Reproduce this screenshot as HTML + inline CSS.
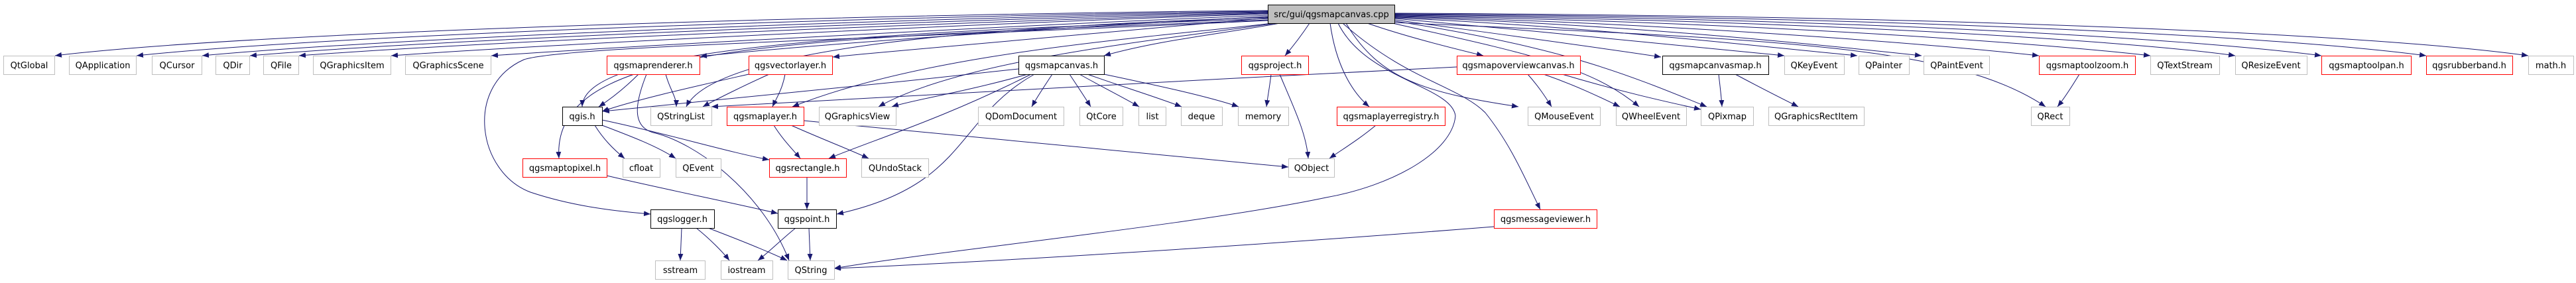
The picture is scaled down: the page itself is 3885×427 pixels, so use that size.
<!DOCTYPE html>
<html><head><meta charset="utf-8"><style>
html,body{margin:0;padding:0;background:#fff}
svg{display:block}
text{font-family:"DejaVu Sans","Liberation Sans",sans-serif;font-size:13px;fill:#000;text-anchor:middle}
.e{fill:none;stroke:#191970;stroke-width:1}
.g{fill:#fff;stroke:#bfbfbf}
.r{fill:#fff;stroke:#ff0000}
.b{fill:#fff;stroke:#000}
</style></head><body>
<svg width="3885" height="427" viewBox="0 0 3885 427" xmlns="http://www.w3.org/2000/svg">
<defs><marker id="a" markerUnits="userSpaceOnUse" markerWidth="11" markerHeight="8" refX="10" refY="4" orient="auto"><path d="M0,0 L10,4 L0,8 z" fill="#191970"/></marker></defs>
<g class="e" marker-end="url(#a)">
<!-- root to row1 left -->
<path d="M1912,16 C1400,20 400,45 83,84"/>
<path d="M1912,17 C1450,22 550,48 206,84"/>
<path d="M1912,18 C1500,24 650,52 305,84"/>
<path d="M1912,19 C1550,26 720,55 377,84"/>
<path d="M1912,20 C1600,28 800,58 451,84"/>
<path d="M1912,21 C1620,30 900,62 590,84"/>
<path d="M1912,23 C1650,33 1000,66 741,84"/>
<path d="M1912,25 C1700,36 1300,60 1056,85"/>
<path d="M1912,27 C1750,40 1500,62 1256,86"/>
<path d="M1930,35 C1850,50 1750,60 1665,84"/>
<path d="M1975,35 C1965,50 1950,70 1938,84"/>
<!-- root to row1 right -->
<path d="M2062,35 C2120,55 2180,70 2237,84"/>
<path d="M2104,30 C2250,50 2400,70 2505,86"/>
<path d="M2104,28 C2300,45 2550,70 2691,84"/>
<path d="M2104,27 C2400,40 2650,70 2801,84"/>
<path d="M2104,26 C2450,36 2750,68 2898,84"/>
<path d="M2104,25 C2500,34 2900,65 3075,84"/>
<path d="M2104,24 C2600,32 3050,62 3243,84"/>
<path d="M2104,23 C2700,30 3200,60 3371,84"/>
<path d="M2104,22 C2800,28 3300,58 3501,84"/>
<path d="M2104,21 C2900,26 3450,56 3659,84"/>
<path d="M2104,20 C3000,24 3600,54 3813,84"/>
<!-- root to lower -->
<path d="M1912,28 C1300,50 880,70 878,161"/>
<path d="M1912,30 C1200,60 830,60 843,239"/>
<path d="M1912,31 C1300,60 850,70 790,90 C700,130 720,260 800,290 C860,310 920,318 981,323"/>
<path d="M1912,26 C1500,40 1080,70 1035,161"/>
<path d="M1920,35 C1700,60 1400,80 1195,161"/>
<path d="M1925,35 C1750,60 1450,90 1325,161"/>
<path d="M2006,35 C2015,100 2040,140 2065,161"/>
<path d="M2030,35 C2080,120 2150,140 2290,161"/>
<path d="M2100,35 C2300,80 2400,100 2472,161"/>
<path d="M2104,32 C2350,70 2450,110 2574,161"/>
<path d="M2025,35 C2120,120 2200,130 2240,170 C2280,220 2300,270 2323,316"/>
<path d="M2018,35 C2060,120 2190,130 2195,175 C2190,230 2100,280 2000,298 C1800,340 1400,380 1258,405"/>
<path d="M2104,34 C2700,60 2950,70 3085,161"/>
<!-- others -->
<path d="M963,112 C940,135 920,150 903,161"/>
<path d="M1004,112 C1010,135 1020,145 1020,161"/>
<path d="M975,112 C960,150 950,190 985,200 C1050,215 1150,290 1190,393"/>
<path d="M1129,112 C1050,130 960,150 908,168"/>
<path d="M1160,112 C1120,130 1080,150 1060,161"/>
<path d="M1184,112 C1180,135 1170,150 1165,161"/>
<path d="M1536,104 C1300,130 1000,160 909,168"/>
<path d="M1550,112 C1450,140 1380,150 1345,161"/>
<path d="M1555,112 C1420,180 1320,210 1250,239"/>
<path d="M1560,112 C1440,180 1460,280 1262,323"/>
<path d="M1587,112 C1575,130 1565,145 1556,161"/>
<path d="M1613,112 C1625,130 1635,145 1645,161"/>
<path d="M1628,112 C1660,130 1690,145 1718,161"/>
<path d="M1640,112 C1690,130 1740,145 1782,161"/>
<path d="M1665,112 C1750,130 1820,145 1868,161"/>
<path d="M1917,112 C1915,130 1912,145 1910,161"/>
<path d="M1930,112 C1950,160 1970,200 1973,239"/>
<path d="M897,189 C910,210 925,225 942,239"/>
<path d="M908,189 C950,205 990,220 1019,239"/>
<path d="M908,181 C1000,200 1100,230 1160,241"/>
<path d="M1167,189 C1180,210 1195,225 1207,239"/>
<path d="M1193,189 C1240,210 1280,225 1310,239"/>
<path d="M1212,182 C1500,210 1800,240 1943,252"/>
<path d="M1217,267 L1217,316"/>
<path d="M915,265 C1000,285 1100,305 1173,322"/>
<path d="M1028,344 L1026,393"/>
<path d="M1050,344 C1070,360 1090,380 1100,393"/>
<path d="M1068,344 C1110,360 1160,380 1187,393"/>
<path d="M1200,344 C1180,360 1160,380 1143,393"/>
<path d="M1220,344 L1222,393"/>
<path d="M2075,189 C2050,210 2025,225 2005,239"/>
<path d="M2197,101 C1800,120 1300,150 1073,161"/>
<path d="M2304,112 C2320,130 2330,145 2340,161"/>
<path d="M2328,112 C2380,130 2420,150 2443,161"/>
<path d="M2356,112 C2450,140 2520,155 2565,165"/>
<path d="M2592,112 C2594,130 2596,145 2597,161"/>
<path d="M2617,112 C2660,135 2690,150 2712,161"/>
<path d="M3136,112 C3125,130 3112,150 3103,161"/>
<path d="M2253,342 C1900,370 1500,395 1258,405"/>
</g>
<g>
<rect x="1912.5" y="7.5" width="191" height="28" fill="#bfbfbf" stroke="#000"/><text x="2008" y="26">src/gui/qgsmapcanvas.cpp</text>
<rect class="g" x="5.5" y="84.5" width="77" height="28"/><text x="44" y="103">QtGlobal</text>
<rect class="g" x="104.5" y="84.5" width="101" height="28"/><text x="155" y="103">QApplication</text>
<rect class="g" x="229.5" y="84.5" width="75" height="28"/><text x="267" y="103">QCursor</text>
<rect class="g" x="325.5" y="84.5" width="51" height="28"/><text x="351" y="103">QDir</text>
<rect class="g" x="397.5" y="84.5" width="53" height="28"/><text x="424" y="103">QFile</text>
<rect class="g" x="472.5" y="84.5" width="117" height="28"/><text x="531" y="103">QGraphicsItem</text>
<rect class="g" x="611.5" y="84.5" width="129" height="28"/><text x="676" y="103">QGraphicsScene</text>
<rect class="r" x="915.5" y="84.5" width="140" height="28"/><text x="985" y="103">qgsmaprenderer.h</text>
<rect class="r" x="1129.5" y="84.5" width="126" height="28"/><text x="1192" y="103">qgsvectorlayer.h</text>
<rect class="b" x="1536.5" y="84.5" width="129" height="28"/><text x="1601" y="103">qgsmapcanvas.h</text>
<rect class="r" x="1872.5" y="84.5" width="101" height="28"/><text x="1923" y="103">qgsproject.h</text>
<rect class="r" x="2197.5" y="84.5" width="186" height="28"/><text x="2290" y="103">qgsmapoverviewcanvas.h</text>
<rect class="b" x="2507.5" y="84.5" width="160" height="28"/><text x="2587" y="103">qgsmapcanvasmap.h</text>
<rect class="g" x="2691.5" y="84.5" width="90" height="28"/><text x="2736" y="103">QKeyEvent</text>
<rect class="g" x="2803.5" y="84.5" width="76" height="28"/><text x="2841" y="103">QPainter</text>
<rect class="g" x="2901.5" y="84.5" width="99" height="28"/><text x="2951" y="103">QPaintEvent</text>
<rect class="r" x="3075.5" y="84.5" width="145" height="28"/><text x="3148" y="103">qgsmaptoolzoom.h</text>
<rect class="g" x="3243.5" y="84.5" width="104" height="28"/><text x="3295" y="103">QTextStream</text>
<rect class="g" x="3371.5" y="84.5" width="108" height="28"/><text x="3425" y="103">QResizeEvent</text>
<rect class="r" x="3501.5" y="84.5" width="135" height="28"/><text x="3569" y="103">qgsmaptoolpan.h</text>
<rect class="r" x="3659.5" y="84.5" width="130" height="28"/><text x="3724" y="103">qgsrubberband.h</text>
<rect class="g" x="3813.5" y="84.5" width="68" height="28"/><text x="3847" y="103">math.h</text>

<rect class="b" x="848.5" y="161.5" width="60" height="28"/><text x="878" y="180">qgis.h</text>
<rect class="g" x="981.5" y="161.5" width="92" height="28"/><text x="1027" y="180">QStringList</text>
<rect class="r" x="1096.5" y="161.5" width="116" height="28"/><text x="1154" y="180">qgsmaplayer.h</text>
<rect class="g" x="1235.5" y="161.5" width="116" height="28"/><text x="1293" y="180">QGraphicsView</text>
<rect class="g" x="1475.5" y="161.5" width="129" height="28"/><text x="1540" y="180">QDomDocument</text>
<rect class="g" x="1628.5" y="161.5" width="65" height="28"/><text x="1661" y="180">QtCore</text>
<rect class="g" x="1717.5" y="161.5" width="41" height="28"/><text x="1738" y="180">list</text>
<rect class="g" x="1781.5" y="161.5" width="62" height="28"/><text x="1812" y="180">deque</text>
<rect class="g" x="1867.5" y="161.5" width="76" height="28"/><text x="1905" y="180">memory</text>
<rect class="r" x="2016.5" y="161.5" width="163" height="28"/><text x="2098" y="180">qgsmaplayerregistry.h</text>
<rect class="g" x="2304.5" y="161.5" width="109" height="28"/><text x="2359" y="180">QMouseEvent</text>
<rect class="g" x="2437.5" y="161.5" width="106" height="28"/><text x="2490" y="180">QWheelEvent</text>
<rect class="g" x="2565.5" y="161.5" width="79" height="28"/><text x="2605" y="180">QPixmap</text>
<rect class="g" x="2667.5" y="161.5" width="144" height="28"/><text x="2739" y="180">QGraphicsRectItem</text>
<rect class="g" x="3063.5" y="161.5" width="58" height="28"/><text x="3092" y="180">QRect</text>

<rect class="r" x="788.5" y="239.5" width="127" height="28"/><text x="852" y="258">qgsmaptopixel.h</text>
<rect class="g" x="939.5" y="239.5" width="56" height="28"/><text x="967" y="258">cfloat</text>
<rect class="g" x="1019.5" y="239.5" width="68" height="28"/><text x="1053" y="258">QEvent</text>
<rect class="r" x="1160.5" y="239.5" width="116" height="28"/><text x="1218" y="258">qgsrectangle.h</text>
<rect class="g" x="1299.5" y="239.5" width="101" height="28"/><text x="1350" y="258">QUndoStack</text>
<rect class="g" x="1943.5" y="239.5" width="69" height="28"/><text x="1978" y="258">QObject</text>

<rect class="b" x="981.5" y="316.5" width="96" height="28"/><text x="1029" y="335">qgslogger.h</text>
<rect class="b" x="1173.5" y="316.5" width="88" height="28"/><text x="1217" y="335">qgspoint.h</text>
<rect class="r" x="2253.5" y="316.5" width="155" height="28"/><text x="2331" y="335">qgsmessageviewer.h</text>

<rect class="g" x="988.5" y="393.5" width="75" height="28"/><text x="1026" y="412">sstream</text>
<rect class="g" x="1087.5" y="393.5" width="78" height="28"/><text x="1126" y="412">iostream</text>
<rect class="g" x="1188.5" y="393.5" width="70" height="28"/><text x="1223" y="412">QString</text>
</g>
</svg>
</body></html>
